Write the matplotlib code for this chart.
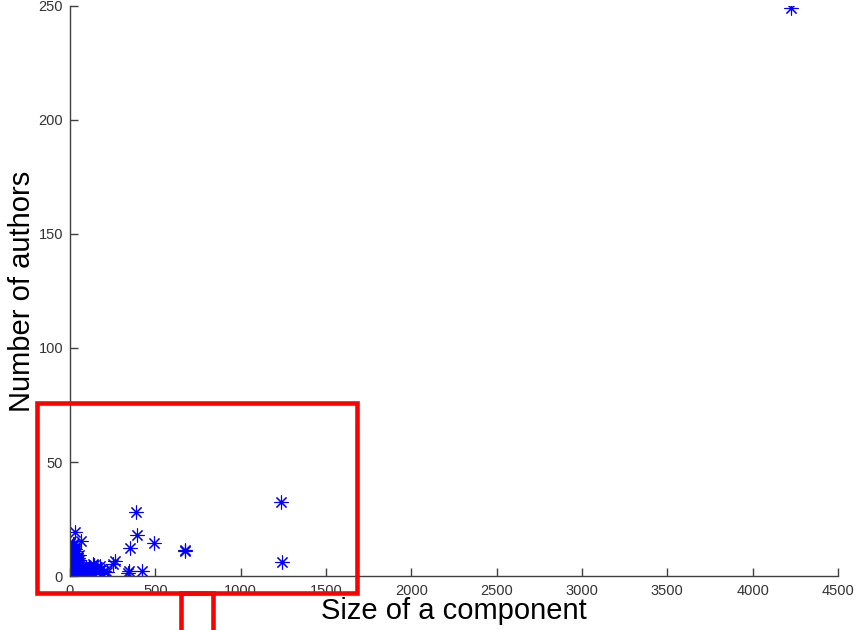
import matplotlib
matplotlib.use("Agg")
import matplotlib.pyplot as plt
from matplotlib.patches import Rectangle

plt.rcParams["font.family"] = ["Liberation Sans", "DejaVu Sans"]

# component size vs number of authors
big_x = [4224, 1238, 1242, 388, 390, 351, 492, 676, 672, 264, 250, 347, 338,
         420, 215, 176, 136, 29, 62, 16]
big_y = [249, 32.5, 6.3, 28, 18.2, 12.3, 14.3, 11.3, 10.8, 6.6, 5.1, 2.2, 1.2,
         2.2, 1.6, 4.4, 5.1, 19.2, 15.4, 13.9]

# dense cluster of small components
small_x = [2, 3, 4, 5, 6, 7, 8, 9, 10, 11, 12, 14, 3, 5, 8, 10, 12, 15, 18, 20,
           22, 25, 28, 16, 20, 6, 10, 15, 20, 25, 30, 35, 40, 45, 30, 35, 40,
           45, 50, 55, 60, 65, 70, 75, 80, 90, 100, 110, 120, 130, 140, 150,
           160, 180, 190, 200, 48, 52, 38, 30, 26, 32, 4, 7, 13, 18, 24, 85,
           95, 105, 115, 125, 2, 5, 9, 14, 19, 23, 27, 33, 37, 42, 47, 55,
           62, 68, 72, 78, 88, 98, 108, 118, 135, 145, 170, 3, 6, 11, 17, 21,
           26, 31, 36, 44, 12, 18, 8, 14, 22, 28, 34]
small_y = [1, 2, 3, 4, 5, 6, 7, 8, 9, 10, 11, 12, 1, 1, 2, 3, 4, 5, 6, 7,
           8, 9, 10, 13, 11, 1, 1, 2, 3, 4, 5, 6, 7, 8, 1, 2, 3,
           4, 5, 2, 3, 1, 2, 4, 1, 3, 2, 4, 1, 3, 5, 2,
           4, 3, 1, 2, 6, 9, 10, 12, 14, 9, 8, 10, 6, 2, 3, 2,
           4, 1, 3, 2, 5, 9, 11, 7, 9, 5, 7, 3, 5, 2, 3, 7,
           2, 4, 1, 3, 2, 1, 3, 2, 1, 3, 2, 10, 12, 13, 10, 12,
           2, 11, 8, 6, 2, 4, 6, 8, 1, 6, 4]

xticks = [0, 500, 1000, 1500, 2000, 2500, 3000, 3500, 4000, 4500]
yticks = [0, 50, 100, 150, 200, 250]

fig = plt.figure(figsize=(8.58, 6.3), dpi=100)
ax = fig.add_axes([70 / 858, 1 - 576 / 630, 768 / 858, 570 / 630])

star = (8, 2, 0)
ax.plot(small_x, small_y, linestyle="none", marker=star, markersize=10,
        markeredgewidth=0.8, color="#0000ff")
ax.plot(big_x, big_y, linestyle="none", marker=star, markersize=10,
        markeredgewidth=0.8, color="#0000ff")

ax.set_xlim(0, 4500)
ax.set_ylim(0, 250)
ax.set_xticks(xticks)
ax.set_yticks(yticks)
ax.spines["top"].set_visible(False)
ax.spines["right"].set_visible(False)
for s in ["left", "bottom"]:
    ax.spines[s].set_color("#404040")
    ax.spines[s].set_linewidth(1)
ax.tick_params(direction="in", length=6, width=1, color="#404040",
               labelsize=10.5, labelcolor="#333333")
ax.tick_params(axis="y", pad=5)
ax.tick_params(axis="x", pad=6)

ax.set_xlabel("Size of a component", fontsize=21, labelpad=-1)
ax.set_ylabel("Number of authors", fontsize=21, labelpad=2)

# red highlight boxes over the figure
W, H = 858, 630
fig.add_artist(Rectangle((37 / W, 1 - 593 / H), 320 / W, 190 / H,
                         transform=fig.transFigure, fill=False,
                         edgecolor="#ff0000", linewidth=3.3, clip_on=False))
fig.add_artist(Rectangle((181 / W, 1 - 650 / H), 32 / W, 57 / H,
                         transform=fig.transFigure, fill=False,
                         edgecolor="#ff0000", linewidth=3.3, clip_on=False))

fig.savefig("out.png", dpi=100)
